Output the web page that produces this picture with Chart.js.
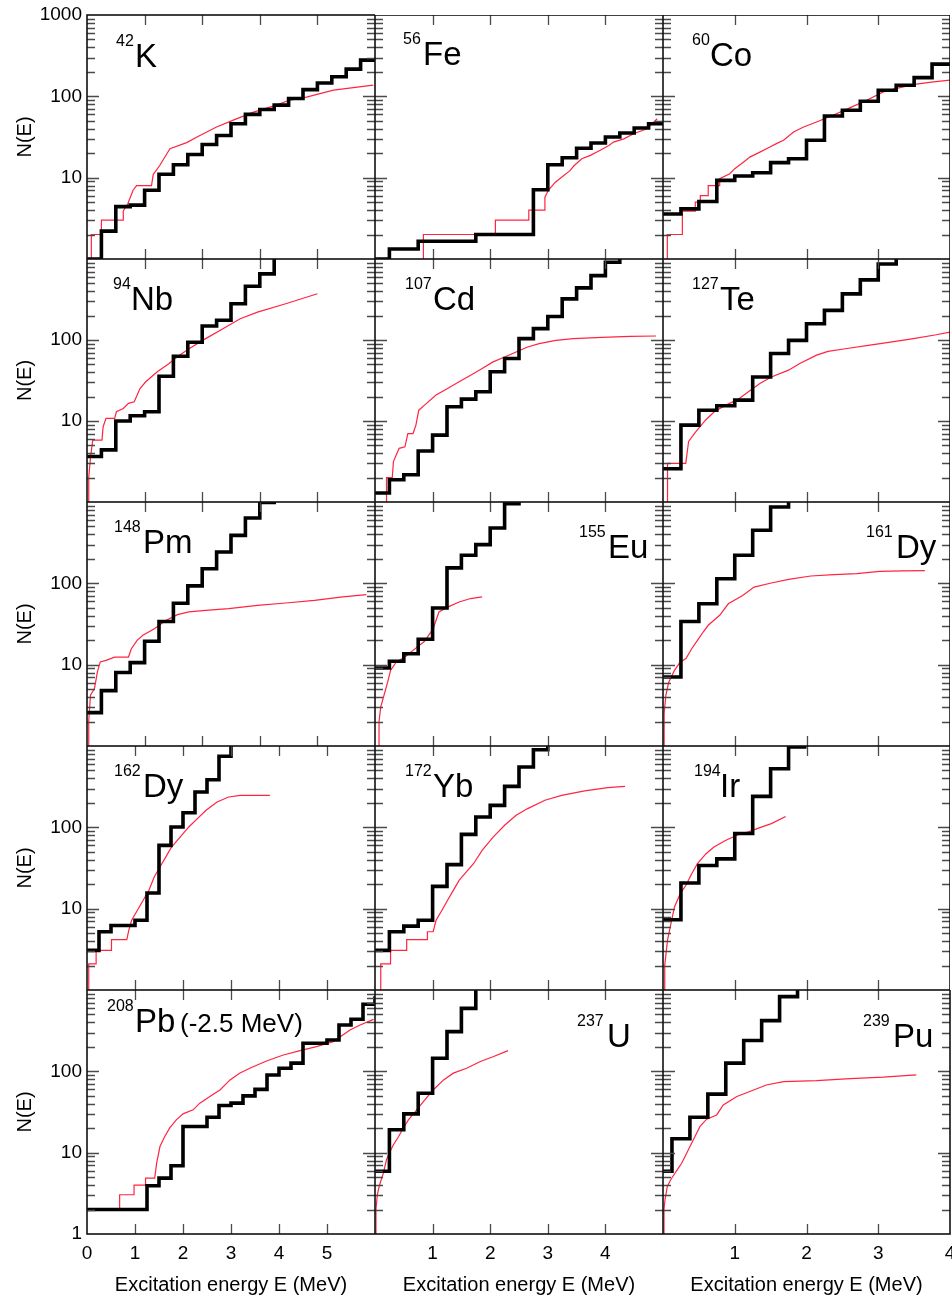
<!DOCTYPE html>
<html>
<head>
<meta charset="utf-8">
<script src="https://cdn.jsdelivr.net/npm/chart.js@4.4.1/dist/chart.umd.min.js"></script>
<style>
    body { margin: 0; background: #fff; }
    #fig { position: relative; width: 952px; height: 1299px; overflow: hidden; font-family: "Liberation Sans", Arial, sans-serif; }
    #fig canvas { position: absolute; }
    .lab { position: absolute; line-height: 1; white-space: nowrap; color: #000; }
</style>
</head>
<body>
<div id="fig"></div>
<script>
// black = binned counts, red = cumulative level counts (E in MeV, N)
const K42_BLACK_E = [0, 0.25, 0.5, 0.75, 1, 1.25, 1.5, 1.75, 2, 2.25, 2.5, 2.75, 3, 3.25, 3.5, 3.75, 4, 4.25, 4.5, 4.75, 5];
const K42_BLACK_N = [1, 2.2, 4.4, 4.6, 7, 11, 14.4, 19.3, 25.6, 33, 46, 60, 69, 78, 94, 121, 146, 174, 216, 279, 279];
const K42_RED_E = [0.075, 0.075, 0.25, 0.25, 0.63, 0.63, 0.71, 0.8, 0.86, 1.12, 1.15, 1.26, 1.44, 1.73, 1.96, 2.25, 2.54, 2.89, 3.29, 3.52, 3.81, 4.28, 4.97];
const K42_RED_N = [1, 2, 2, 3, 3, 3.9, 4.8, 7, 8, 8, 11, 14, 22.7, 27, 33, 42, 51, 64, 78, 90, 98, 119, 137];

const FE56_BLACK_E = [0, 0.25, 0.75, 1.75, 2.75, 3, 3.25, 3.5, 3.75, 4, 4.25, 4.5, 4.75, 5];
const FE56_BLACK_N = [1, 1.33, 1.65, 2, 7.1, 14.4, 17.6, 23, 26.7, 31.6, 35.4, 40.8, 46, 46];
const FE56_RED_E = [0.84, 0.84, 2.09, 2.09, 2.67, 2.67, 2.95, 2.95, 3.01, 3.13, 3.39, 3.45, 3.59, 3.74, 3.91, 4.06, 4.14, 4.32, 4.49, 4.72, 4.9];
const FE56_RED_N = [1, 2, 2, 3, 3, 4, 4, 5.75, 7, 8.8, 12.3, 13.9, 17.1, 18.8, 21.7, 24.9, 27.4, 30, 34.7, 40, 53];

const CO60_BLACK_E = [0, 0.25, 0.5, 0.75, 1, 1.25, 1.5, 1.75, 2, 2.25, 2.5, 2.75, 3, 3.25, 3.5, 3.75, 4];
const CO60_BLACK_N = [3.58, 4.13, 5.1, 9.25, 10.5, 11.5, 15.3, 17.1, 28.8, 57.4, 67.5, 87, 119, 137, 170, 249, 249];
const CO60_RED_E = [0.06, 0.06, 0.27, 0.27, 0.45, 0.45, 0.52, 0.52, 0.63, 0.63, 0.79, 0.79, 0.93, 1.0, 1.12, 1.21, 1.35, 1.49, 1.58, 1.68, 1.82, 1.96, 2.14, 2.37, 2.61, 2.84, 3.07, 3.3, 3.53, 3.77, 4.0];
const CO60_RED_N = [1, 2, 2, 3.87, 3.87, 5, 5, 6, 6, 8, 8, 9.7, 11.2, 12.9, 15.5, 17.9, 20.6, 23.8, 26.2, 28.8, 36.5, 42, 48.4, 58.5, 72.7, 89.6, 113.5, 128, 141, 150.6, 158];

const NB94_BLACK_E = [0, 0.25, 0.5, 0.75, 1, 1.25, 1.5, 1.75, 2, 2.25, 2.5, 2.75, 3, 3.25];
const NB94_BLACK_N = [3.64, 4.4, 10, 11.6, 13, 35.7, 63, 94, 149, 175, 280, 461, 655, 2000];
const NB94_RED_E = [0.03, 0.03, 0.06, 0.1, 0.26, 0.28, 0.33, 0.48, 0.51, 0.63, 0.72, 0.82, 0.92, 1.02, 1.22, 1.42, 1.57, 1.77, 2.06, 2.36, 2.66, 2.96, 3.45, 4.0];
const NB94_RED_N = [1, 2, 3.5, 5.8, 5.8, 8.5, 10.8, 10.8, 13, 14.3, 16.5, 17.3, 25.2, 30.5, 40.5, 51, 62, 78, 104, 138, 183, 221, 280, 372];

const CD107_BLACK_E = [0, 0.25, 0.5, 0.75, 1, 1.25, 1.5, 1.75, 2, 2.25, 2.5, 2.75, 3, 3.25, 3.5, 3.75, 4, 4.25];
const CD107_BLACK_N = [1.29, 1.88, 2.17, 4.27, 6.7, 15, 18.6, 23, 40.5, 59, 104, 138, 195, 322, 440, 623, 910, 2000];
const CD107_RED_E = [0.2, 0.2, 0.3, 0.32, 0.37, 0.42, 0.52, 0.57, 0.66, 0.71, 0.76, 0.86, 1.06, 1.26, 1.46, 1.66, 1.86, 2.05, 2.25, 2.45, 2.65, 2.85, 3.14, 3.44, 3.94, 4.43, 4.88];
const CD107_RED_N = [1, 2, 2, 3.16, 3.82, 4.6, 4.8, 7, 7, 8.9, 13.6, 15.7, 20.9, 25.2, 30.5, 36.8, 44.5, 53.7, 61.8, 71, 82, 90, 99, 104, 108, 111, 112];

const TE127_BLACK_E = [0, 0.25, 0.5, 0.75, 1, 1.25, 1.5, 1.75, 2, 2.25, 2.5, 2.75, 3, 3.25];
const TE127_BLACK_N = [2.57, 8.9, 13.6, 15.4, 18.1, 35, 68, 99, 159, 232, 371, 552, 868, 2000];
const TE127_RED_E = [0.063, 0.063, 0.317, 0.357, 0.437, 0.516, 0.595, 0.714, 0.873, 1.03, 1.19, 1.35, 1.51, 1.75, 1.9, 2.14, 2.3, 2.54, 2.86, 3.17, 3.49, 3.81, 4.0];
const TE127_RED_N = [1, 3, 3, 5.6, 7, 8.5, 10.3, 13, 15.7, 18.1, 23, 29, 35, 42.4, 51, 65, 72.5, 78, 86, 94, 104, 116, 125];

const PM148_BLACK_E = [0, 0.25, 0.5, 0.75, 1, 1.25, 1.5, 1.75, 2, 2.25, 2.5, 2.75, 3, 3.25];
const PM148_BLACK_N = [2.57, 4.8, 8.0, 10.6, 19.4, 34, 57, 93, 151, 243, 389, 635, 985, 2000];
const PM148_RED_E = [0.03, 0.03, 0.06, 0.13, 0.18, 0.23, 0.33, 0.48, 0.72, 0.77, 0.87, 0.97, 1.17, 1.37, 1.57, 1.77, 2.06, 2.46, 2.96, 3.45, 3.95, 4.44, 4.85];
const PM148_RED_N = [1, 2, 4.2, 5.07, 8.1, 10.8, 11.3, 12.4, 12.4, 15.7, 19.9, 23, 27.7, 35, 41.2, 44.5, 46.6, 48.9, 53.7, 57.3, 61.8, 68, 72.6];

const EU155_BLACK_E = [0, 0.25, 0.5, 0.75, 1, 1.25, 1.5, 1.75, 2, 2.25, 2.5];
const EU155_BLACK_N = [9.1, 11, 13.6, 20.5, 49.8, 155, 221, 299, 478, 955, 2000];
const EU155_RED_E = [0.07, 0.07, 0.1, 0.22, 0.27, 0.37, 0.52, 0.66, 0.86, 1.01, 1.11, 1.26, 1.46, 1.66, 1.86];
const EU155_RED_N = [1, 2, 3.02, 6.1, 8.5, 10.8, 12.4, 15, 19.4, 27.7, 44.5, 51, 59, 65, 68];

const DY161_BLACK_E = [0, 0.25, 0.5, 0.75, 1, 1.25, 1.5, 1.75];
const DY161_BLACK_N = [7.05, 34, 56, 114, 221, 449, 868, 2000];
const DY161_RED_E = [0.016, 0.016, 0.04, 0.08, 0.16, 0.24, 0.32, 0.4, 0.48, 0.56, 0.63, 0.79, 0.91, 1.11, 1.27, 1.51, 1.75, 2.06, 2.38, 2.7, 3.02, 3.33, 3.65];
const DY161_RED_N = [1, 2.5, 4.2, 6.1, 8.5, 10.8, 11.9, 15.7, 19.9, 25.2, 30.5, 40.5, 56, 71, 90, 101, 112, 123, 128, 131.6, 140.6, 142, 143];

const DY162_BLACK_E = [0, 0.25, 0.5, 0.75, 1, 1.25, 1.5, 1.75, 2, 2.25, 2.5, 2.75, 3];
const DY162_BLACK_N = [3.07, 5.2, 6.2, 6.2, 7.2, 15.6, 60, 101, 151, 272, 385, 747, 2000];
const DY162_RED_E = [0.036, 0.036, 0.19, 0.19, 0.51, 0.51, 0.83, 0.87, 0.93, 1.05, 1.17, 1.29, 1.4, 1.52, 1.64, 1.76, 1.94, 2.12, 2.3, 2.48, 2.71, 2.95, 3.19, 3.81];
const DY162_RED_N = [1, 2.1, 2.1, 3.07, 3.07, 4.16, 4.16, 5.4, 7.2, 9.55, 12.7, 16.8, 24.5, 32.5, 43, 57, 76, 101, 128, 162, 205, 236, 247, 247];

const YB172_BLACK_E = [0, 0.25, 0.5, 0.75, 1, 1.25, 1.5, 1.75, 2, 2.25, 2.5, 2.75, 3];
const YB172_BLACK_N = [3.07, 5.2, 6.1, 7.2, 18.8, 34.8, 82, 134, 186, 319, 552, 901, 2000];
const YB172_RED_E = [0.1, 0.1, 0.27, 0.27, 0.55, 0.55, 0.91, 0.91, 1.01, 1.06, 1.16, 1.26, 1.36, 1.46, 1.56, 1.71, 1.86, 2.05, 2.25, 2.45, 2.65, 2.95, 3.24, 3.64, 4.04, 4.34];
const YB172_RED_N = [1, 2.1, 2.1, 3.07, 3.07, 4.16, 4.16, 5.2, 5.2, 7.2, 9.5, 12.7, 16.8, 22.3, 26.9, 35.7, 52, 76, 106, 141, 170, 215, 247, 280, 307, 319];

const IR194_BLACK_E = [0, 0.25, 0.5, 0.75, 1, 1.25, 1.5, 1.75, 2];
const IR194_BLACK_N = [7.3, 20.7, 34, 41, 84, 240, 526, 975, 975];
const IR194_RED_E = [0.024, 0.024, 0.063, 0.12, 0.16, 0.24, 0.32, 0.4, 0.48, 0.6, 0.71, 0.87, 1.03, 1.19, 1.35, 1.51, 1.71];
const IR194_RED_N = [1, 2, 4.1, 7.2, 10.5, 15.3, 19.4, 26.9, 35.7, 47.4, 57.3, 69, 80, 88, 99, 111, 136];

const PB208_BLACK_E = [0, 1.25, 1.5, 1.75, 2, 2.5, 2.75, 3, 3.25, 3.5, 3.75, 4, 4.25, 4.5, 5, 5.25, 5.5, 5.75, 6];
const PB208_BLACK_N = [2, 3.92, 4.87, 6.9, 21, 27.3, 38, 40.6, 49.9, 60, 90, 109, 126, 221, 243, 372, 436, 667, 838];
const PB208_RED_E = [0, 0.68, 0.68, 0.98, 0.98, 1.22, 1.22, 1.41, 1.45, 1.52, 1.62, 1.72, 1.86, 2.0, 2.21, 2.35, 2.56, 2.77, 2.98, 3.18, 3.39, 3.74, 4.09, 4.44, 4.78, 5.13, 5.48, 5.69, 5.97];
const PB208_RED_N = [2, 2, 3.04, 3.04, 4, 4, 4.87, 4.87, 7.4, 11.9, 15.8, 20, 25.3, 30, 33.6, 40.6, 49, 59, 78.5, 95, 109, 134, 159, 180, 201, 232, 323, 372, 436];

const U237_BLACK_E = [0, 0.25, 0.5, 0.75, 1, 1.25, 1.5, 1.75];
const U237_BLACK_N = [5.9, 19.1, 30, 53.8, 145, 308, 595, 2000];
const U237_RED_E = [0.017, 0.017, 0.04, 0.075, 0.145, 0.2, 0.26, 0.32, 0.41, 0.49, 0.58, 0.7, 0.84, 1.01, 1.19, 1.36, 1.59, 1.83, 2.06, 2.31];
const U237_RED_N = [1, 2, 3.04, 3.92, 5.6, 8.2, 10.3, 12.5, 15.8, 20, 25.3, 32, 42.5, 59, 78.5, 95, 109, 132, 152, 180];

const PU239_BLACK_E = [0, 0.125, 0.375, 0.625, 0.875, 1.125, 1.375, 1.625, 1.875];
const PU239_BLACK_N = [5.9, 14.8, 27.3, 52.4, 126, 239, 420, 828, 2000];
const PU239_RED_E = [0.014, 0.014, 0.028, 0.06, 0.107, 0.153, 0.214, 0.26, 0.307, 0.376, 0.446, 0.516, 0.608, 0.748, 0.84, 1.03, 1.21, 1.44, 1.68, 2.14, 2.61, 3.07, 3.53];
const PU239_RED_N = [1, 2, 2.64, 3.85, 4.65, 5.35, 6.45, 7.4, 9.0, 11.9, 15.8, 21, 25.8, 29.1, 38.7, 49, 56.5, 68, 74.8, 77, 81.5, 84.7, 90.4];

// tick labels
const X_TICK_LABELS = [[0, 1, 2, 3, 4, 5], [1, 2, 3, 4], [1, 2, 3, 4]];
const Y_TICK_LABELS = [[10, 100, 1000], [10, 100], [10, 100], [10, 100], [1, 10, 100]];
const Y_MAJOR = [10, 100];
const Y_MINOR = [2, 3, 4, 5, 6, 7, 8, 9, 20, 30, 40, 50, 60, 70, 80, 90, 200, 300, 400, 500, 600, 700, 800, 900];

// panel grid (pixels)
const COL_LEFT = [87, 375, 663];
const COL_WIDTH = [288, 288, 287];
const ROW_EDGES = [15, 259, 502, 746, 990, 1234];

const panels = [
    { row: 0, col: 0, xmax: 5, black: [K42_BLACK_E, K42_BLACK_N], red: [K42_RED_E, K42_RED_N], sup: '42', el: 'K', supX: 116, elX: 135, base: 67 },
    { row: 0, col: 1, xmax: 5, black: [FE56_BLACK_E, FE56_BLACK_N], red: [FE56_RED_E, FE56_RED_N], sup: '56', el: 'Fe', supX: 403, elX: 423, base: 65 },
    { row: 0, col: 2, xmax: 4, black: [CO60_BLACK_E, CO60_BLACK_N], red: [CO60_RED_E, CO60_RED_N], sup: '60', el: 'Co', supX: 692, elX: 710, base: 66 },
    { row: 1, col: 0, xmax: 5, black: [NB94_BLACK_E, NB94_BLACK_N], red: [NB94_RED_E, NB94_RED_N], sup: '94', el: 'Nb', supX: 113, elX: 131, base: 310 },
    { row: 1, col: 1, xmax: 5, black: [CD107_BLACK_E, CD107_BLACK_N], red: [CD107_RED_E, CD107_RED_N], sup: '107', el: 'Cd', supX: 405, elX: 433, base: 310 },
    { row: 1, col: 2, xmax: 4, black: [TE127_BLACK_E, TE127_BLACK_N], red: [TE127_RED_E, TE127_RED_N], sup: '127', el: 'Te', supX: 692, elX: 720, base: 310 },
    { row: 2, col: 0, xmax: 5, black: [PM148_BLACK_E, PM148_BLACK_N], red: [PM148_RED_E, PM148_RED_N], sup: '148', el: 'Pm', supX: 114, elX: 143, base: 553 },
    { row: 2, col: 1, xmax: 5, black: [EU155_BLACK_E, EU155_BLACK_N], red: [EU155_RED_E, EU155_RED_N], sup: '155', el: 'Eu', supX: 579, elX: 608, base: 558 },
    { row: 2, col: 2, xmax: 4, black: [DY161_BLACK_E, DY161_BLACK_N], red: [DY161_RED_E, DY161_RED_N], sup: '161', el: 'Dy', supX: 866, elX: 896, base: 558 },
    { row: 3, col: 0, xmax: 6, black: [DY162_BLACK_E, DY162_BLACK_N], red: [DY162_RED_E, DY162_RED_N], sup: '162', el: 'Dy', supX: 114, elX: 143, base: 797 },
    { row: 3, col: 1, xmax: 5, black: [YB172_BLACK_E, YB172_BLACK_N], red: [YB172_RED_E, YB172_RED_N], sup: '172', el: 'Yb', supX: 405, elX: 433, base: 797 },
    { row: 3, col: 2, xmax: 4, black: [IR194_BLACK_E, IR194_BLACK_N], red: [IR194_RED_E, IR194_RED_N], sup: '194', el: 'Ir', supX: 694, elX: 720, base: 797 },
    { row: 4, col: 0, xmax: 6, black: [PB208_BLACK_E, PB208_BLACK_N], red: [PB208_RED_E, PB208_RED_N], sup: '208', el: 'Pb', supX: 107, elX: 135, base: 1032, note: '(-2.5 MeV)', noteX: 180 },
    { row: 4, col: 1, xmax: 5, black: [U237_BLACK_E, U237_BLACK_N], red: [U237_RED_E, U237_RED_N], sup: '237', el: 'U', supX: 577, elX: 607, base: 1047 },
    { row: 4, col: 2, xmax: 4, black: [PU239_BLACK_E, PU239_BLACK_N], red: [PU239_RED_E, PU239_RED_N], sup: '239', el: 'Pu', supX: 863, elX: 893, base: 1047 }
];

Chart.defaults.font.family = '"Liberation Sans", Arial, sans-serif';
Chart.defaults.color = '#000';

// frame + inward ticks on all four sides, placed with the chart's own scales
const frameTicks = {
    id: 'frameTicks',
    afterDatasetsDraw(chart) {
        const ctx = chart.ctx;
        const a = chart.chartArea;
        const x = chart.scales.x;
        const y = chart.scales.y;
        ctx.save();
        ctx.strokeStyle = '#4a4a4a';
        ctx.lineWidth = 1.3;
        ctx.beginPath();
        Y_MINOR.concat(Y_MAJOR).forEach(function (v) {
            const py = Math.round(y.getPixelForValue(v)) + 0.5;
            const len = Y_MAJOR.includes(v) ? 12 : 8;
            ctx.moveTo(a.left, py); ctx.lineTo(a.left + len, py);
            ctx.moveTo(a.right, py); ctx.lineTo(a.right - len, py);
        });
        for (let e = 1; e < x.max; e++) {
            const px = Math.round(x.getPixelForValue(e)) + 0.5;
            ctx.moveTo(px, a.top); ctx.lineTo(px, a.top + 10);
            ctx.moveTo(px, a.bottom); ctx.lineTo(px, a.bottom - 10);
        }
        ctx.stroke();
        ctx.strokeStyle = '#111';
        ctx.lineWidth = 1.6;
        ctx.strokeRect(a.left, a.top, a.right - a.left, a.bottom - a.top);
        ctx.restore();
    }
};

function toPoints(pair) {
    return pair[0].map(function (e, i) { return { x: e, y: pair[1][i] }; });
}

function addText(fig, text, left, base, size) {
    const s = document.createElement('span');
    s.className = 'lab';
    s.textContent = text;
    s.style.left = left + 'px';
    s.style.top = (base - 0.8465 * size) + 'px';
    s.style.fontSize = size + 'px';
    fig.appendChild(s);
}

function makePanel(fig, p) {
    const L = p.col === 0 ? 87 : 0;
    const B = p.row === 4 ? 65 : 0;
    const T = (p.row === 0 && p.col === 0) ? 15 : 0;
    const R = (p.row === 4 && p.col === 2) ? 2 : 0;
    const w = COL_WIDTH[p.col];
    const h = ROW_EDGES[p.row + 1] - ROW_EDGES[p.row];

    const canvas = document.createElement('canvas');
    canvas.width = L + w + R;
    canvas.height = T + h + B;
    canvas.style.left = (COL_LEFT[p.col] - L) + 'px';
    canvas.style.top = (ROW_EDGES[p.row] - T) + 'px';
    canvas.style.width = canvas.width + 'px';
    canvas.style.height = canvas.height + 'px';
    fig.appendChild(canvas);

    new Chart(canvas.getContext('2d'), {
        type: 'line',
        data: {
            datasets: [{
                label: 'black',
                data: toPoints(p.black),
                stepped: 'before', // hold each bin value up to the next bin edge
                borderColor: '#000',
                borderWidth: 3.6,
                borderJoinStyle: 'miter',
                pointRadius: 0,
                fill: false
            }, {
                label: 'red',
                data: toPoints(p.red),
                borderColor: '#ff2440',
                borderWidth: 1.2,
                pointRadius: 0,
                tension: 0,
                fill: false
            }]
        },
        options: {
            animation: false,
            responsive: false,
            devicePixelRatio: 1,
            layout: { padding: { top: T, right: R, left: 0, bottom: 0 } },
            plugins: { legend: { display: false }, tooltip: { enabled: false } },
            scales: {
                x: {
                    type: 'linear',
                    min: 0,
                    max: p.xmax,
                    display: p.row === 4,
                    grid: { display: false, drawTicks: false },
                    border: { display: false },
                    afterBuildTicks: function (s) { s.ticks = X_TICK_LABELS[p.col].map(function (v) { return { value: v }; }); },
                    afterFit: function (s) { s.height = B; s.paddingLeft = 0; s.paddingRight = 0; },
                    ticks: { padding: 8, autoSkip: false, maxRotation: 0, font: { size: 19 }, callback: function (v) { return String(v); } },
                    title: { display: true, text: 'Excitation energy E (MeV)', font: { size: 20 }, padding: { top: 0, bottom: 2 } }
                },
                y: {
                    type: 'logarithmic',
                    min: 1,
                    max: 1000,
                    display: p.col === 0,
                    grid: { display: false, drawTicks: false },
                    border: { display: false },
                    afterBuildTicks: function (s) { s.ticks = Y_TICK_LABELS[p.row].map(function (v) { return { value: v }; }); },
                    afterFit: function (s) { s.width = L; s.paddingTop = 0; s.paddingBottom = 0; },
                    ticks: { padding: 5, font: { size: 19 }, callback: function (v) { return String(v); } },
                    title: { display: true, text: 'N(E)', font: { size: 20 }, padding: { top: 13, bottom: 0 } }
                }
            }
        },
        plugins: [frameTicks]
    });

    // nucleus label
    addText(fig, p.sup, p.supX, p.base - 20, 16);
    addText(fig, p.el, p.elX, p.base, 33);
    if (p.note) {
        addText(fig, p.note, p.noteX, p.base, 26);
    }
}

const fig = document.getElementById('fig');
panels.forEach(function (p) { makePanel(fig, p); });
</script>
</body>
</html>
